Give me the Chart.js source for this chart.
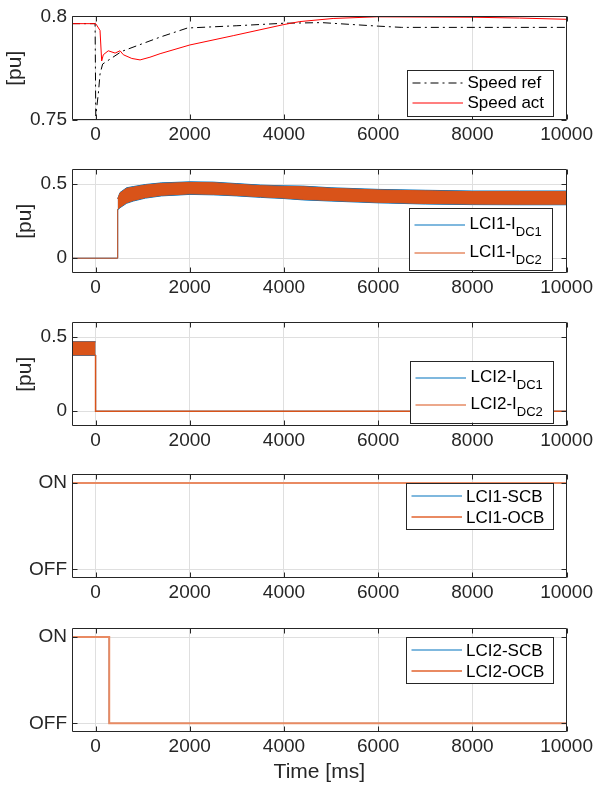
<!DOCTYPE html>
<html>
<head>
<meta charset="utf-8">
<script src="https://cdn.jsdelivr.net/npm/chart.js@4.4.0/dist/chart.umd.min.js"></script>
<style>
  html, body { margin: 0; padding: 0; background: #fff; }
  #wrap { position: relative; width: 596px; height: 788px; overflow: hidden; }
  #wrap canvas { position: absolute; left: 0; }
</style>
</head>
<body>
<div id="wrap">
  <canvas id="c1"></canvas>
  <canvas id="c2"></canvas>
  <canvas id="c3"></canvas>
  <canvas id="c4"></canvas>
  <canvas id="c5"></canvas>
</div>
<script>
// ---- shared axis data ----
const TIME_TICKS = [0, 2000, 4000, 6000, 8000, 10000];
const TIME_MIN = -500;
const TIME_MAX = 10000;

// ---- panel 1: speed ----
const speedRefT = [-500, -10, 5, 60, 95, 150, 555, 1370, 1950, 3000, 4000, 4800, 6000, 6500, 10000];
const speedRefV = [0.7965, 0.7965, 0.752, 0.763, 0.7722, 0.777, 0.7831, 0.790, 0.7944, 0.7955, 0.7967, 0.797, 0.7953, 0.7947, 0.7947];
const speedActT = [-500, 0, 10, 95, 130, 165, 270, 415, 520, 590, 770, 945, 1155, 1370, 2000, 2923, 3983, 4337, 5044, 5963, 8000, 9000, 10000];
const speedActV = [0.7965, 0.7965, 0.7963, 0.7932, 0.7785, 0.7815, 0.7834, 0.7823, 0.7834, 0.7815, 0.7797, 0.779, 0.7803, 0.782, 0.7862, 0.7907, 0.796, 0.7975, 0.799, 0.7998, 0.7996, 0.7992, 0.7986];
const speedLegend = ['Speed ref', 'Speed act'];

// ---- panel 2: LCI1 DC currents ----
const lci1StepT = [-500, 470, 470];
const lci1StepV = [0, 0, 0.33];
const lci1BandT = [470, 520, 660, 800, 1060, 1400, 2000, 2500, 3000, 3500, 4000, 4400, 5000, 6000, 7000, 8000, 9000, 10000];
const lci1Dc2Hi = [0.40, 0.44, 0.472, 0.48, 0.494, 0.505, 0.512, 0.51, 0.50, 0.49, 0.485, 0.483, 0.472, 0.461, 0.455, 0.45, 0.45, 0.45];
const lci1Dc2Lo = [0.33, 0.345, 0.375, 0.39, 0.41, 0.425, 0.435, 0.432, 0.425, 0.415, 0.407, 0.398, 0.39, 0.378, 0.37, 0.366, 0.365, 0.365];
const lci1Dc1Hi = [0.402, 0.444, 0.476, 0.484, 0.498, 0.509, 0.516, 0.514, 0.504, 0.494, 0.489, 0.487, 0.476, 0.465, 0.459, 0.454, 0.454, 0.454];
const lci1Dc1Lo = [0.327, 0.341, 0.371, 0.386, 0.406, 0.421, 0.431, 0.428, 0.421, 0.411, 0.403, 0.394, 0.386, 0.374, 0.366, 0.362, 0.361, 0.361];
const lci1Legend = [['LCI1-I', 'DC1'], ['LCI1-I', 'DC2']];

// ---- panel 3: LCI2 DC currents ----
const lci2BandT = [-500, 0];
const lci2Dc2Hi = [0.468, 0.468];
const lci2Dc2Lo = [0.38, 0.38];
const lci2Dc1Hi = [0.47, 0.47];
const lci2Dc1Lo = [0.377, 0.377];
const lci2StepT = [0, 0, 10000];
const lci2StepV = [0.38, 0, 0];
const lci2Legend = [['LCI2-I', 'DC1'], ['LCI2-I', 'DC2']];

// ---- panel 4 / 5: breakers (1 = ON, 0 = OFF) ----
const stateTicks = [0, 1];
const lci1CbT = [-500, 10000];
const lci1ScbV = [1, 1];
const lci1OcbV = [1, 1];
const lci1CbLegend = ['LCI1-SCB', 'LCI1-OCB'];
const lci2CbT = [-500, 290, 10000];
const lci2ScbV = [1, 0, 0];
const lci2OcbV = [1, 0, 0];
const lci2CbLegend = ['LCI2-SCB', 'LCI2-OCB'];

const BLUE = '#0072BD';
const ORANGE = '#D95319';
const ORANGE_LIGHT = '#E98A62';
const INK = '#262626';
const GRID = '#dfdfdf';
const FONT = '"Liberation Sans", Arial, Helvetica, sans-serif';

Chart.defaults.font.family = FONT;

function pts(t, v) {
  return t.map((x, i) => ({ x: x, y: v[i] }));
}

function drawLegend(ctx, a, L) {
  const x0 = Math.round(a.right - L.rightInset - L.width);
  const y0 = Math.round(a.top + L.top);
  ctx.fillStyle = '#fff';
  ctx.fillRect(x0, y0, L.width, L.height);
  ctx.strokeStyle = INK;
  ctx.lineWidth = 1;
  ctx.strokeRect(x0 + 0.5, y0 + 0.5, Math.round(L.width), Math.round(L.height));
  L.items.forEach((it, i) => {
    // legend sample lines sit on whole pixels, so a 1px line spreads over two rows
    const ry = Math.round(y0 + L.rows[i]);
    ctx.beginPath();
    ctx.setLineDash(it.dash || []);
    ctx.strokeStyle = it.color;
    ctx.lineWidth = it.width || 1.2;
    ctx.moveTo(x0 + L.lineFrom, ry);
    ctx.lineTo(x0 + L.lineTo, ry);
    ctx.stroke();
    ctx.setLineDash([]);
    ctx.fillStyle = '#000';
    ctx.textAlign = 'left';
    ctx.textBaseline = 'alphabetic';
    const label = Array.isArray(it.label) ? it.label : [it.label];
    ctx.font = '17px ' + FONT;
    ctx.fillText(label[0], x0 + L.textX, ry + L.baseline);
    if (label[1]) {
      const w = ctx.measureText(label[0]).width;
      ctx.font = '13px ' + FONT;
      ctx.fillText(label[1], x0 + L.textX + w, ry + L.subBaseline);
    }
  });
}

// MATLAB-like box, inward tick marks and legend inside the axes
const matlabAxes = {
  id: 'matlabAxes',
  afterDraw(chart, args, opts) {
    const ctx = chart.ctx;
    const a = chart.chartArea;
    const xs = chart.scales.x, ys = chart.scales.y;
    ctx.save();
    ctx.strokeStyle = INK;
    ctx.lineWidth = 1;
    const l = Math.round(a.left) + 0.5, r = Math.round(a.right) - 0.5;
    const t = Math.round(a.top) + 0.5, b = Math.round(a.bottom) - 0.5;
    ctx.beginPath();
    ctx.rect(l, t, r - l, b - t);
    xs.ticks.forEach(tk => {
      const px = Math.round(xs.getPixelForValue(tk.value)) + 0.5;
      ctx.moveTo(px, t); ctx.lineTo(px, t + 5);
      ctx.moveTo(px, b); ctx.lineTo(px, b - 5);
    });
    ys.ticks.forEach(tk => {
      const py = Math.round(ys.getPixelForValue(tk.value)) + 0.5;
      ctx.moveTo(l, py); ctx.lineTo(l + 5, py);
      ctx.moveTo(r, py); ctx.lineTo(r - 5, py);
    });
    ctx.stroke();
    if (opts.legend) drawLegend(ctx, a, opts.legend);
    ctx.restore();
  }
};

function panelConfig(p) {
  return {
    type: 'line',
    data: { datasets: p.datasets },
    options: {
      responsive: false,
      animation: false,
      events: [],
      layout: { padding: { top: 12, right: 29, left: 0, bottom: 0 } },
      elements: {
        point: { radius: 0 },
        line: { tension: 0, borderWidth: 1 }
      },
      plugins: {
        legend: { display: false },
        tooltip: { enabled: false },
        matlabAxes: { legend: p.legend }
      },
      scales: {
        x: {
          type: 'linear',
          min: TIME_MIN,
          max: TIME_MAX,
          afterBuildTicks: s => { s.ticks = TIME_TICKS.map(v => ({ value: v })); },
          afterFit: s => { s.height = p.xAxisHeight; },
          grid: { color: GRID, drawTicks: false },
          border: { display: false },
          ticks: { padding: 3, color: INK, font: { size: 19 }, maxRotation: 0, autoSkip: false, callback: v => String(v) },
          title: p.xTitle || { display: false }
        },
        y: {
          type: 'linear',
          min: p.yMin,
          max: p.yMax,
          afterBuildTicks: s => { s.ticks = p.yTicks.map(v => ({ value: v })); },
          afterFit: s => { s.width = 72; },
          grid: { color: GRID, drawTicks: false },
          border: { display: false },
          ticks: { padding: 5, color: INK, font: { size: 19 }, callback: p.yLabel || (v => String(v)) },
          title: p.yTitle || { display: false }
        }
      }
    },
    plugins: [matlabAxes]
  };
}

function band(t, hi, lo, color, order) {
  return [
    { data: pts(t, hi), borderColor: color, backgroundColor: color, borderWidth: 1, fill: false, order: order },
    { data: pts(t, lo), borderColor: color, backgroundColor: color, borderWidth: 1, fill: '-1', order: order }
  ];
}

function legendBox(top, height, rows, items, extra) {
  return Object.assign({
    rightInset: 14, width: 146, top: top, height: height, rows: rows,
    lineFrom: 5.5, lineTo: 56, textX: 60.5, baseline: 6, subBaseline: 11, items: items
  }, extra || {});
}

const puTitle = pad => ({ display: true, text: '[pu]', color: INK, font: { size: 21 }, padding: { top: pad, bottom: 0 } });

const panels = [
  {
    id: 'c1', top: 0, height: 154, xAxisHeight: 34,
    yMin: 0.75, yMax: 0.8, yTicks: [0.75, 0.8], yTitle: puTitle(3),
    datasets: [
      { data: pts(speedActT, speedActV), borderColor: '#ff0000', order: 0 },
      { data: pts(speedRefT, speedRefV), borderColor: '#000', borderDash: [8, 4, 2, 4], order: 1 }
    ],
    legend: legendBox(53.7, 46, [13.3, 33.3], [
      { label: speedLegend[0], color: '#000', dash: [8, 4, 2, 4] },
      { label: speedLegend[1], color: '#ff0000' }
    ], { baseline: 5 })
  },
  {
    id: 'c2', top: 153, height: 154, xAxisHeight: 34,
    yMin: -0.1, yMax: 0.6, yTicks: [0, 0.5], yTitle: puTitle(13),
    datasets: [].concat(
      band(lci1BandT, lci1Dc1Hi, lci1Dc1Lo, BLUE, 3),
      band(lci1BandT, lci1Dc2Hi, lci1Dc2Lo, ORANGE, 1),
      [
        { data: pts(lci1StepT, lci1StepV), borderColor: BLUE, order: 4 },
        { data: pts(lci1StepT, lci1StepV), borderColor: ORANGE, order: 2 }
      ]
    ),
    legend: legendBox(38.3, 62.4, [16.7, 44.7], [
      { label: lci1Legend[0], color: BLUE },
      { label: lci1Legend[1], color: ORANGE }
    ], { width: 143, rightInset: 14.5, baseline: 3.6 })
  },
  {
    id: 'c3', top: 306, height: 154, xAxisHeight: 34,
    yMin: -0.1, yMax: 0.6, yTicks: [0, 0.5], yTitle: puTitle(13),
    datasets: [].concat(
      band(lci2BandT, lci2Dc1Hi, lci2Dc1Lo, BLUE, 3),
      band(lci2BandT, lci2Dc2Hi, lci2Dc2Lo, ORANGE, 1),
      [
        { data: pts(lci2StepT, lci2StepV), borderColor: BLUE, order: 4 },
        { data: pts(lci2StepT, lci2StepV), borderColor: ORANGE, borderWidth: 1.5, order: 2 }
      ]
    ),
    legend: legendBox(38.7, 61.6, [17.3, 44], [
      { label: lci2Legend[0], color: BLUE },
      { label: lci2Legend[1], color: ORANGE }
    ], { width: 143, baseline: 3.6 })
  },
  {
    id: 'c4', top: 458, height: 154, xAxisHeight: 34,
    yMin: -0.1, yMax: 1.1, yTicks: stateTicks, yLabel: v => (v === 1 ? 'ON' : 'OFF'),
    datasets: [
      { data: pts(lci1CbT, lci1ScbV), borderColor: BLUE, order: 1 },
      { data: pts(lci1CbT, lci1OcbV), borderColor: ORANGE_LIGHT, borderWidth: 2, order: 0 }
    ],
    legend: legendBox(8.3, 46, [13.4, 34], [
      { label: lci1CbLegend[0], color: BLUE },
      { label: lci1CbLegend[1], color: ORANGE_LIGHT, width: 2 }
    ], { width: 146.7, rightInset: 14.3, textX: 60 })
  },
  {
    id: 'c5', top: 612, height: 176, xAxisHeight: 56,
    yMin: -0.1, yMax: 1.1, yTicks: stateTicks, yLabel: v => (v === 1 ? 'ON' : 'OFF'),
    xTitle: { display: true, text: 'Time [ms]', color: INK, font: { size: 21 }, padding: { top: 0, bottom: 3 } },
    datasets: [
      { data: pts(lci2CbT, lci2ScbV), borderColor: BLUE, stepped: true, order: 1 },
      { data: pts(lci2CbT, lci2OcbV), borderColor: ORANGE_LIGHT, borderWidth: 2, stepped: true, order: 0 }
    ],
    legend: legendBox(8.7, 46, [13.4, 34], [
      { label: lci2CbLegend[0], color: BLUE },
      { label: lci2CbLegend[1], color: ORANGE_LIGHT, width: 2 }
    ], { width: 146.7, rightInset: 14.3, textX: 60 })
  }
];

panels.forEach(p => {
  const canvas = document.getElementById(p.id);
  canvas.width = 596;
  canvas.height = p.height;
  canvas.style.top = p.top + 'px';
  new Chart(canvas, panelConfig(p));
});
</script>
</body>
</html>
